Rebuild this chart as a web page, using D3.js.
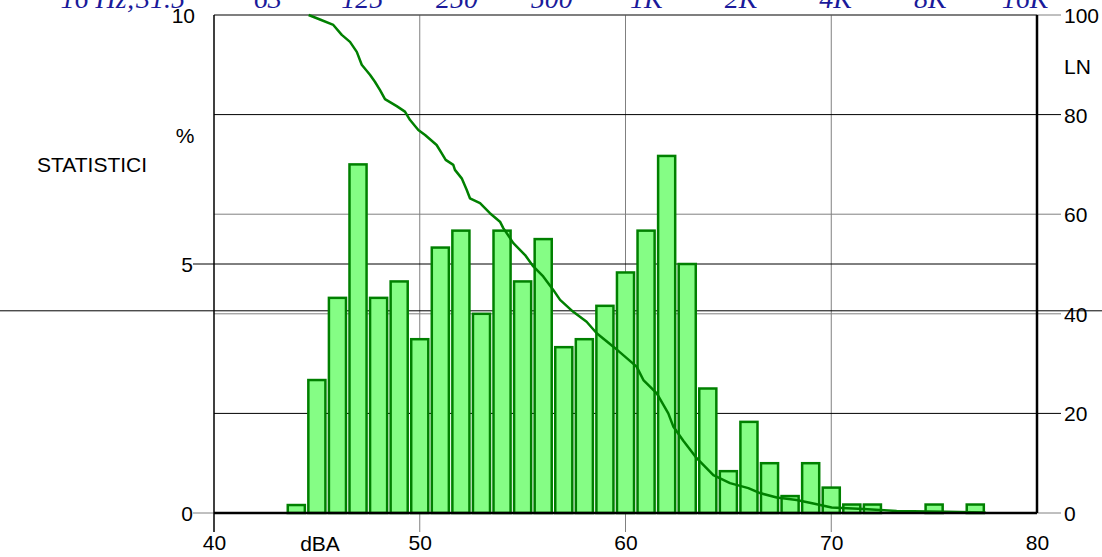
<!DOCTYPE html>
<html>
<head>
<meta charset="utf-8">
<script src="https://cdn.jsdelivr.net/npm/d3@7"></script>
<style>
  html, body { margin: 0; padding: 0; background: #fff; }
  svg { display: block; }
</style>
</head>
<body>
<svg id="chart" width="1102" height="557"></svg>
<script>
// ---- data ----
const binCenters = [44,45,46,47,48,49,50,51,52,53,54,55,56,57,58,59,60,61,62,63,64,65,66,67,68,69,70,71,72,73,74,75,76,77];
const binPercent = [0.16,2.67,4.32,7.0,4.32,4.65,3.49,5.33,5.67,4.0,5.67,4.65,5.5,3.33,3.49,4.16,4.83,5.67,7.17,5.0,2.5,0.84,1.83,1.0,0.34,1.0,0.51,0.17,0.17,0,0,0.17,0,0.17];

const lnLevel = [44.6,45.15,45.8,46.21,46.61,46.94,47.18,47.58,47.82,48.07,48.31,48.88,49.28,49.53,49.93,50.26,50.82,51.07,51.26,51.63,51.71,52.04,52.28,52.44,52.93,53.41,53.9,54.06,54.55,55.12,55.52,56.0,56.49,56.82,57.46,58.11,58.6,59.41,60.06,60.54,60.87,61.52,62.08,62.33,62.81,63.46,64.27,65.08,65.97,66.54,67.35,68.32,69.13,70.02,71.56,73.18,75.6,77.5];
const lnValue = [100,99.1,98.0,96.0,94.6,92.6,90.0,88.0,86.6,84.9,83.1,81.7,80.6,78.9,76.9,75.9,73.9,72.2,70.9,69.9,68.9,67.2,64.9,63.2,62.2,60.2,58.5,57.2,54.2,51.8,49.5,47.5,44.8,42.8,40.4,38.4,36.1,33.4,31.1,29.4,26.7,24.0,20.0,17.3,14.5,11.0,7.6,6.0,5.0,4.0,3.1,2.6,1.9,1.1,0.8,0.4,0.26,0.1];

const xTicks = [40,50,60,70,80];
const leftTicks = [0,5,10];
const rightTicks = [0,20,40,60,80,100];
const refLineLN = 40.6;
const topLabels = ["16 Hz;31.5","63","125","250","500","1K","2K","4K","8K","16K"];

// ---- layout ----
const L = 214, R = 1037, T = 15, B = 513;
const svg = d3.select("#chart");
const font = "'Liberation Sans', Arial, sans-serif";
const fs = 21;

const x = d3.scaleLinear().domain([40,80]).range([L,R]);
const yP = d3.scaleLinear().domain([0,10]).range([B,T]);
const yN = d3.scaleLinear().domain([0,100]).range([B,T]);

const gray = "#808080";

// vertical grid
svg.append("g").selectAll("line").data(xTicks.filter(d => d > 40 && d < 80)).join("line")
  .attr("x1", d => x(d)).attr("x2", d => x(d)).attr("y1", T).attr("y2", B + 19)
  .attr("stroke", gray).attr("stroke-width", 1);

// horizontal LN grid with right ticks
svg.append("g").selectAll("line").data(rightTicks.filter(d => d > 0 && d < 100)).join("line")
  .attr("x1", L).attr("x2", R + 24).attr("y1", d => yN(d)).attr("y2", d => yN(d))
  .attr("stroke", d => (d === 20 || d === 80) ? "#000" : gray).attr("stroke-width", 1);
svg.append("g").selectAll("line").data([0,100]).join("line")
  .attr("x1", R).attr("x2", R + 24).attr("y1", d => yN(d)).attr("y2", d => yN(d))
  .attr("stroke", gray).attr("stroke-width", 1);

// left % ticks / grid
svg.append("line").attr("x1", L - 21).attr("x2", R).attr("y1", yP(5)).attr("y2", yP(5))
  .attr("stroke", "#000").attr("stroke-width", 1);
svg.append("line").attr("x1", L - 21).attr("x2", L).attr("y1", yP(0)).attr("y2", yP(0))
  .attr("stroke", gray).attr("stroke-width", 1);

// top border
svg.append("line").attr("x1", L).attr("x2", R).attr("y1", T).attr("y2", T)
  .attr("stroke", "#555").attr("stroke-width", 1.5);

// full-width reference line
svg.append("line").attr("x1", 0).attr("x2", 1102).attr("y1", yN(refLineLN)).attr("y2", yN(refLineLN))
  .attr("stroke", "#000").attr("stroke-width", 1);

// bars
const bars = binCenters.map((c, i) => ({c, v: binPercent[i]})).filter(d => d.v > 0);
const step = x(1) - x(0);
svg.append("g").selectAll("rect").data(bars).join("rect")
  .attr("x", d => x(d.c - 0.5) + 1.75)
  .attr("width", step - 3.5)
  .attr("y", d => yP(d.v))
  .attr("height", d => yP(0) - yP(d.v))
  .attr("fill", "#85fd85")
  .attr("stroke", "#008000")
  .attr("stroke-width", 2.5);

// LN curve
const line = d3.line().x(d => x(d[0])).y(d => yN(d[1]));
svg.append("path").datum(lnLevel.map((l, i) => [l, lnValue[i]]))
  .attr("d", line).attr("fill", "none").attr("stroke", "#008000")
  .attr("stroke-width", 2.5).attr("stroke-linejoin", "round");

// axes lines
svg.append("line").attr("x1", L).attr("x2", L).attr("y1", T).attr("y2", B + 19)
  .attr("stroke", "#000").attr("stroke-width", 1.5);
svg.append("line").attr("x1", L).attr("x2", R).attr("y1", B).attr("y2", B)
  .attr("stroke", "#000").attr("stroke-width", 2.5);
svg.append("line").attr("x1", R).attr("x2", R).attr("y1", T).attr("y2", B)
  .attr("stroke", "#000").attr("stroke-width", 2.5);

// axis labels via d3 axes
const gB = svg.append("g").attr("transform", `translate(0,${B})`)
  .call(d3.axisBottom(x).tickValues(xTicks).tickFormat(d3.format("d")).tickSize(0).tickPadding(22));
const gL = svg.append("g").attr("transform", `translate(${L - 21},0)`)
  .call(d3.axisLeft(yP).tickValues(leftTicks).tickFormat(d3.format("d")).tickSize(0).tickPadding(0));
const gR = svg.append("g").attr("transform", `translate(${R},0)`)
  .call(d3.axisRight(yN).tickValues(rightTicks).tickFormat(d3.format("d")).tickSize(24).tickPadding(3));
[gB, gL, gR].forEach(g => {
  g.select(".domain").remove();
  g.selectAll(".tick line").remove();
  g.selectAll("text").attr("font-family", font).attr("font-size", fs).attr("fill", "#000");
});
gL.selectAll(".tick text").attr("dy", "0.36em");
gL.selectAll(".tick").filter(d => d === 10).select("text").attr("x", 2);
gR.selectAll(".tick text").attr("dy", "0.36em");

// text labels
svg.append("text").attr("x", 320).attr("y", 551).attr("text-anchor", "middle")
  .attr("font-family", font).attr("font-size", fs).text("dBA");
svg.append("text").attr("x", 1064).attr("y", 66).attr("dy", "0.36em")
  .attr("font-family", font).attr("font-size", fs).text("LN");
svg.append("text").attr("x", 185).attr("y", 135).attr("dy", "0.36em").attr("text-anchor", "middle")
  .attr("font-family", font).attr("font-size", fs).text("%");
svg.append("text").attr("x", 37).attr("y", 164).attr("dy", "0.36em")
  .attr("font-family", font).attr("font-size", fs).text("STATISTICI");

// top frequency labels
const xTop = d3.scalePoint().domain(topLabels).range([173, 1025]);
svg.append("g").selectAll("text").data(topLabels).join("text")
  .attr("x", (d, i) => i === 0 ? xTop(d) + 12 : xTop(d))
  .attr("y", 8)
  .attr("text-anchor", (d, i) => i === 0 ? "end" : "middle")
  .attr("font-family", "'Liberation Serif', 'Times New Roman', serif")
  .attr("font-style", "italic")
  .attr("font-size", 28)
  .attr("fill", "#1a1a9a")
  .text(d => d);
</script>
</body>
</html>
